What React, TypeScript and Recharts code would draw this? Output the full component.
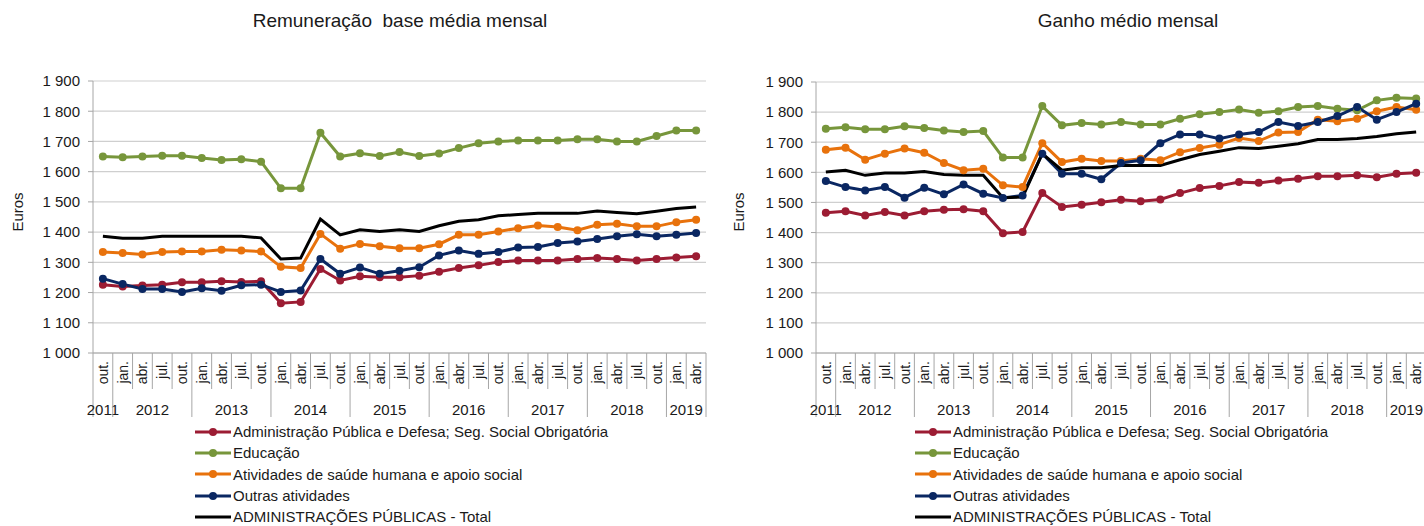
import { LineChart, Line, XAxis, YAxis, CartesianGrid } from 'recharts';

const months = [
  'out.',
  'jan.', 'abr.', 'jul.', 'out.',
  'jan.', 'abr.', 'jul.', 'out.',
  'jan.', 'abr.', 'jul.', 'out.',
  'jan.', 'abr.', 'jul.', 'out.',
  'jan.', 'abr.', 'jul.', 'out.',
  'jan.', 'abr.', 'jul.', 'out.',
  'jan.', 'abr.', 'jul.', 'out.',
  'jan.', 'abr.',
];

const years = [
  '2011',
  '2012', '2012', '2012', '2012',
  '2013', '2013', '2013', '2013',
  '2014', '2014', '2014', '2014',
  '2015', '2015', '2015', '2015',
  '2016', '2016', '2016', '2016',
  '2017', '2017', '2017', '2017',
  '2018', '2018', '2018', '2018',
  '2019', '2019',
];

const yTicks = [1000, 1100, 1200, 1300, 1400, 1500, 1600, 1700, 1800, 1900];

const seriesKeys = ['admin', 'educacao', 'saude', 'outras', 'total'];
const seriesNames = [
  'Administração Pública e Defesa; Seg. Social Obrigatória',
  'Educação',
  'Atividades de saúde humana e apoio social',
  'Outras atividades',
  'ADMINISTRAÇÕES PÚBLICAS - Total',
];
const seriesColors = ['#9c1c33', '#77963b', '#e8720c', '#0a2762', '#000000'];

// Remuneração base média mensal
const remAdmin = [1226, 1220, 1223, 1226, 1234, 1234, 1237, 1235, 1237, 1165, 1169, 1278, 1240, 1254, 1251, 1251, 1256, 1269, 1281, 1290, 1301, 1306, 1306, 1306, 1311, 1314, 1311, 1306, 1311, 1316, 1320];
const remEducacao = [1650, 1648, 1650, 1653, 1653, 1645, 1639, 1641, 1633, 1545, 1545, 1729, 1650, 1661, 1652, 1665, 1652, 1660, 1678, 1694, 1700, 1703, 1703, 1703, 1707, 1707, 1700, 1700, 1718, 1736, 1736];
const remSaude = [1334, 1331, 1326, 1334, 1336, 1336, 1342, 1339, 1336, 1285, 1281, 1394, 1345, 1361, 1353, 1347, 1347, 1360, 1391, 1391, 1402, 1413, 1422, 1417, 1406, 1424, 1428, 1419, 1419, 1433, 1441];
const remOutras = [1246, 1228, 1212, 1212, 1202, 1214, 1206, 1224, 1226, 1202, 1207, 1311, 1262, 1283, 1262, 1272, 1284, 1323, 1339, 1328, 1334, 1349, 1351, 1364, 1369, 1377, 1386, 1393, 1386, 1391, 1397];
const remTotal = [1386, 1380, 1380, 1386, 1386, 1386, 1386, 1386, 1381, 1311, 1314, 1443, 1391, 1408, 1402, 1408, 1402, 1421, 1436, 1441, 1454, 1458, 1462, 1462, 1462, 1470, 1465, 1461, 1469, 1478, 1483];

// Ganho médio mensal
const ganAdmin = [1466, 1471, 1457, 1468, 1457, 1471, 1476, 1477, 1471, 1398, 1402, 1531, 1485, 1492, 1501, 1509, 1504, 1510, 1531, 1548, 1555, 1568, 1565, 1573, 1579, 1587, 1587, 1590, 1584, 1595, 1599];
const ganEducacao = [1745, 1750, 1743, 1743, 1753, 1747, 1739, 1734, 1737, 1649, 1649, 1820, 1756, 1764, 1759, 1767, 1759, 1759, 1778, 1793, 1800, 1809, 1798, 1803, 1817, 1820, 1811, 1806, 1839, 1848, 1845];
const ganSaude = [1675, 1682, 1642, 1662, 1679, 1665, 1631, 1607, 1612, 1557, 1551, 1697, 1634, 1645, 1638, 1638, 1645, 1640, 1667, 1681, 1692, 1714, 1704, 1732, 1734, 1775, 1770, 1778, 1803, 1817, 1808];
const ganOutras = [1571, 1551, 1540, 1551, 1516, 1549, 1527, 1560, 1529, 1515, 1523, 1662, 1595, 1595, 1577, 1631, 1640, 1697, 1726, 1726, 1712, 1726, 1734, 1767, 1754, 1767, 1787, 1817, 1775, 1800, 1828];
const ganTotal = [1601, 1607, 1590, 1598, 1598, 1603, 1593, 1590, 1590, 1516, 1518, 1662, 1607, 1615, 1615, 1623, 1623, 1623, 1642, 1659, 1670, 1682, 1679, 1687, 1695, 1709, 1709, 1712, 1719, 1728, 1734];

const FONT = '"Liberation Sans", Arial, sans-serif';
const AXIS = '#a6a6a6';
const GRID = '#cfcfcf';
const TEXT = '#1a1a1a';

function buildRows(values: number[][]) {
  return months.map((m, i) => {
    const row: Record<string, string | number> = { period: `${m} ${years[i]}` };
    seriesKeys.forEach((k, s) => {
      row[k] = values[s][i];
    });
    return row;
  });
}

const remRows = buildRows([remAdmin, remEducacao, remSaude, remOutras, remTotal]);
const ganRows = buildRows([ganAdmin, ganEducacao, ganSaude, ganOutras, ganTotal]);

const fmtThousands = (v: number) => `${Math.floor(v / 1000)} ${String(v % 1000).padStart(3, '0')}`;

function MonthTick(props: any) {
  const { x, y, payload, bw } = props;
  const i: number = props.index ?? payload.index;
  const yearStart = i === 0 || years[i] !== years[i - 1];
  const last = i === months.length - 1;
  let yearLabel = null;
  if (yearStart) {
    let end = i;
    while (end + 1 < years.length && years[end + 1] === years[i]) end++;
    const cx = x + ((i + end) / 2 - i) * bw;
    yearLabel = (
      <text x={cx} y={y + 56} textAnchor="middle" dominantBaseline="central" fontSize={15} fill={TEXT}>
        {years[i]}
      </text>
    );
  }
  return (
    <g>
      <line x1={x - bw / 2} x2={x - bw / 2} y1={y} y2={y + (yearStart ? 64 : 36)} stroke={AXIS} />
      {last && <line x1={x + bw / 2} x2={x + bw / 2} y1={y} y2={y + 64} stroke={AXIS} />}
      <text
        transform={`translate(${x},${y + 8}) rotate(-90)`}
        textAnchor="end"
        dominantBaseline="central"
        fontSize={14}
        fill={TEXT}
      >
        {months[i]}
      </text>
      {yearLabel}
    </g>
  );
}

function Legend({ left }: { left: number }) {
  return (
    <div style={{ position: 'absolute', left, top: 421, fontSize: 15, color: TEXT }}>
      {seriesNames.map((name, s) => (
        <div key={name} style={{ height: 21.3, display: 'flex', alignItems: 'center', whiteSpace: 'nowrap' }}>
          <svg width={36} height={12} style={{ marginRight: 2 }}>
            <line x1={0} x2={36} y1={6} y2={6} stroke={seriesColors[s]} strokeWidth={3} />
            {seriesKeys[s] !== 'total' && <circle cx={18} cy={6} r={4} fill={seriesColors[s]} />}
          </svg>
          <span>{name}</span>
        </div>
      ))}
    </div>
  );
}

type PanelProps = {
  left: number;
  width: number;
  margin: { top: number; right: number; bottom: number; left: number };
  title: string;
  titleCenter: number;
  eurosX: number;
  legendX: number;
  rows: Record<string, string | number>[];
};

const Y_AXIS_W = 60;
const X_AXIS_H = 70;

function Panel({ left, width, margin, title, titleCenter, eurosX, legendX, rows }: PanelProps) {
  const bw = (width - margin.left - margin.right - Y_AXIS_W) / months.length;
  return (
    <>
      <div
        style={{
          position: 'absolute',
          left: titleCenter - 300,
          width: 600,
          top: 10,
          lineHeight: '22px',
          fontSize: 19,
          textAlign: 'center',
          color: TEXT,
          whiteSpace: 'pre',
        }}
      >
        {title}
      </div>
      <div
        style={{
          position: 'absolute',
          left: eurosX,
          top: 212,
          transform: 'translate(-50%, -50%) rotate(-90deg)',
          fontSize: 15,
          color: TEXT,
        }}
      >
        Euros
      </div>
      <div style={{ position: 'absolute', left, top: 0 }}>
        <LineChart width={width} height={526} data={rows} margin={margin} style={{ fontFamily: FONT }}>
          <CartesianGrid vertical={false} stroke={GRID} strokeWidth={1.2} />
          <XAxis
            dataKey="period"
            interval={0}
            height={X_AXIS_H}
            padding={{ left: bw / 2, right: bw / 2 }}
            axisLine={{ stroke: AXIS }}
            tickLine={false}
            tickSize={0}
            tickMargin={0}
            tick={(p: any) => <MonthTick {...p} bw={bw} />}
          />
          <YAxis
            width={Y_AXIS_W}
            domain={[1000, 1900]}
            ticks={yTicks}
            interval={0}
            axisLine={{ stroke: AXIS }}
            tickLine={{ stroke: AXIS }}
            tickSize={5}
            tickMargin={8}
            tick={{ fontSize: 15, fill: TEXT }}
            tickFormatter={fmtThousands}
          />
          {seriesKeys.map((k, s) => (
            <Line
              key={k}
              type="linear"
              dataKey={k}
              name={seriesNames[s]}
              stroke={seriesColors[s]}
              strokeWidth={3}
              dot={k === 'total' ? false : { r: 4, fill: seriesColors[s], stroke: seriesColors[s], strokeWidth: 0 }}
              activeDot={false}
              isAnimationActive={false}
            />
          ))}
        </LineChart>
      </div>
      <Legend left={legendX} />
    </>
  );
}

export default function App() {
  return (
    <div
      style={{
        position: 'fixed',
        left: 0,
        top: 0,
        width: 1424,
        height: 526,
        overflow: 'hidden',
        background: '#fff',
        fontFamily: FONT,
      }}
    >
      <Panel
        left={0}
        width={712}
        margin={{ top: 81, right: 6, bottom: 103, left: 33 }}
        title="Remuneração  base média mensal"
        titleCenter={400}
        eurosX={17}
        legendX={195}
        rows={remRows}
      />
      <Panel
        left={720}
        width={706}
        margin={{ top: 82, right: 0, bottom: 103, left: 36 }}
        title="Ganho médio mensal"
        titleCenter={1128}
        eurosX={738}
        legendX={915}
        rows={ganRows}
      />
    </div>
  );
}
